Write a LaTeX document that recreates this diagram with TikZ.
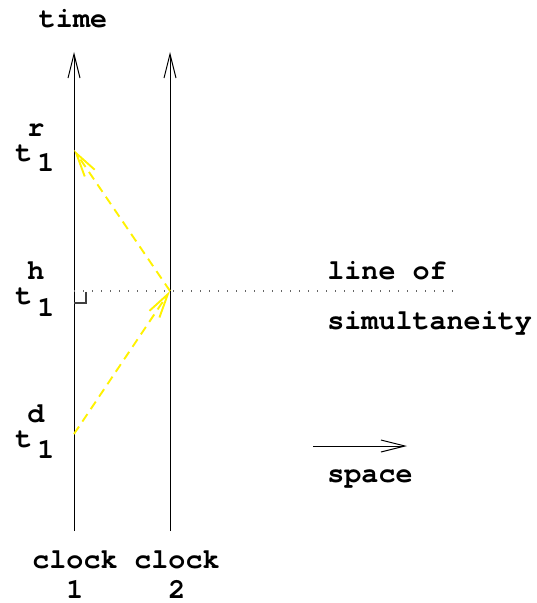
\documentclass[tikz,border=0pt]{standalone}
\usepackage{fontspec}
\setmonofont{TeX Gyre Cursor}
\usetikzlibrary{arrows.meta}
\begin{document}
\begin{tikzpicture}[x=0.5pt,y=-0.5pt,
  lbl/.style={inner sep=0pt,anchor=base west,font=\fontsize{14.2}{16}\selectfont\ttfamily\bfseries},
  clbl/.style={inner sep=0pt,anchor=base,font=\fontsize{14.2}{16}\selectfont\ttfamily\bfseries},
  barb/.style={-{Straight Barb[length=12pt,width=6pt]}},
  axis/.style={line width=0.5pt,barb},
  ray/.style={line width=0.95pt,yellow,dash pattern=on 4.5pt off 3pt,barb},
  simline/.style={line width=0.6pt,black!60,dash pattern=on 0.6pt off 3.9pt}]
\useasboundingbox (0,0) rectangle (536,603);
% clock world lines
\coordinate (c1b) at (74,531);
\coordinate (c1t) at (74,52);
\coordinate (c2b) at (170,531);
\coordinate (c2t) at (170,52);
\draw[axis] (c1b) -- (c1t);
\draw[axis] (c2b) -- (c2t);
% events
\coordinate (ed) at (74,434);
\coordinate (eh) at (74,291);
\coordinate (er) at (74,150);
\coordinate (e2) at (170,291);
\coordinate (send) at (455,291);
\draw[simline] (eh) -- (send);
% right angle mark
\coordinate (ra1) at (86,292);
\coordinate (ra2) at (86,303);
\coordinate (ra3) at (74,303);
\draw[line width=0.6pt,black!75] (ra1) -- (ra2) -- (ra3);
% light signals
\draw[ray] (ed) -- (e2);
\draw[ray] (e2) -- (er);
% space arrow
\coordinate (s1) at (313,446);
\coordinate (s2) at (407,446);
\draw[line width=0.5pt,barb] (s1) -- (s2);
% labels
\node[clbl] (time) at (73,28) {time};
\node[lbl] (tr) at (15,162) {t};
\node[lbl] (trs) at (27,137) {r};
\node[lbl] (tr1) at (37,172) {1};
\node[lbl] (th) at (15,305) {t};
\node[lbl] (ths) at (27,280) {h};
\node[lbl] (th1) at (37,316) {1};
\node[lbl] (td) at (15,447) {t};
\node[lbl] (tds) at (27,422) {d};
\node[lbl] (td1) at (37,458) {1};
\node[lbl] (lof) at (327,280) {line of};
\node[lbl] (sim) at (327,329) {simultaneity};
\node[lbl] (spc) at (327,482) {space};
\node[clbl] (cl1) at (75,568) {clock};
\node[clbl] (cl2) at (177,568) {clock};
\node[clbl] (n1) at (75,598) {1};
\node[clbl] (n2) at (177,598) {2};
\end{tikzpicture}
\end{document}
